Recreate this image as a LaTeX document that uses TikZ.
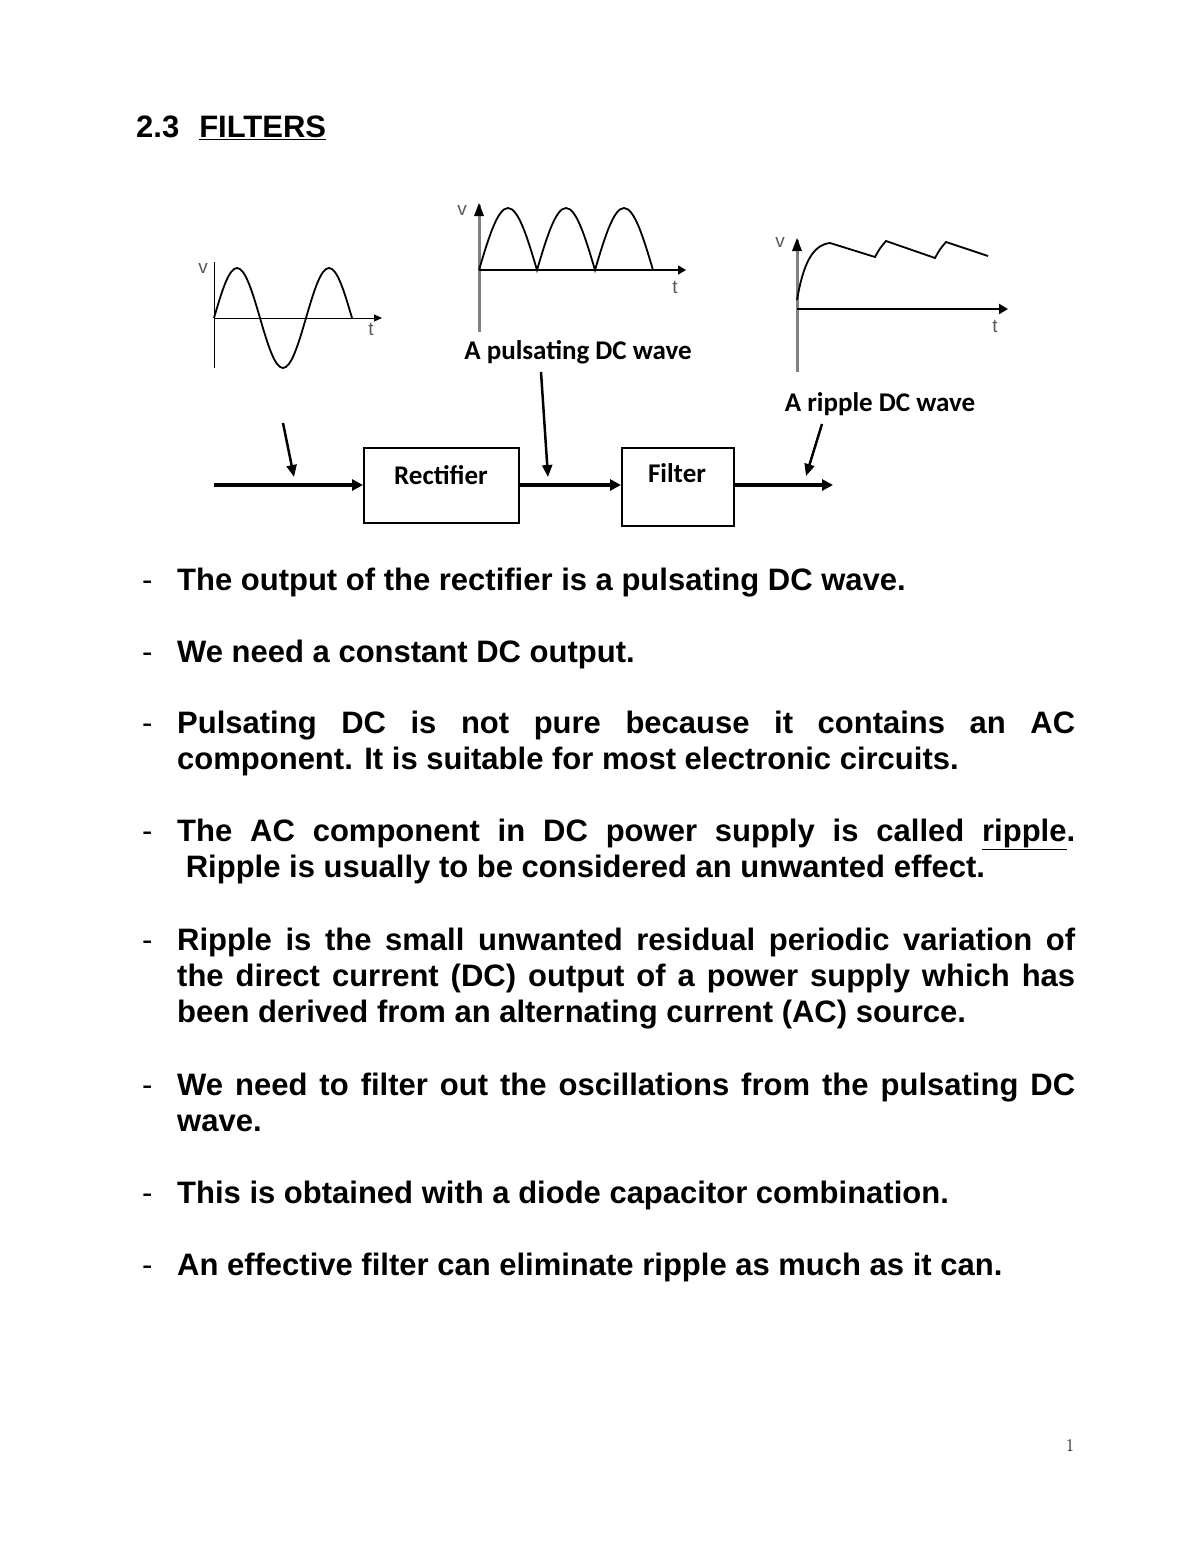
\documentclass[tikz,border=0pt]{standalone}
\usepackage{fontspec}
\setmainfont{Liberation Sans}
\newfontfamily\calfnt{Carlito}
\newfontfamily\lmrfnt{Latin Modern Roman}
\usetikzlibrary{arrows.meta}
\begin{document}
\begin{tikzpicture}[x=1pt,y=-1pt,
  body/.style={anchor=base west,inner sep=0pt,font=\fontsize{31}{36}\selectfont\bfseries},
  dashmark/.style={anchor=base west,inner sep=0pt,font=\fontsize{31}{36}\selectfont},
  lab/.style={inner sep=0pt,font=\fontsize{27}{30}\selectfont\calfnt\bfseries},
  axl/.style={inner sep=0pt,font=\fontsize{19}{20}\selectfont\color{gray!70!black}},
  blk/.style={draw,line width=2pt,inner sep=0pt},
  conn/.style={line width=3.5pt,-{Triangle[length=11pt,width=11pt]}},
  ptr/.style={line width=2.5pt,-{Triangle[length=12pt,width=10pt]}},
  wave/.style={line width=1.8pt}]
\useasboundingbox (0,0) rectangle (1200,1553);
\node[body] (title) at (136,137) {2.3\hspace{20pt}\underline{FILTERS}};
% sine
\draw[line width=1pt] (214,262) -- (214,368);
\draw[line width=1pt,-{Triangle[length=8pt,width=7pt]}] (214,318) -- (382,318);
\draw[wave] (214,318) sin (237,268) cos (260,318) sin (283,368) cos (306,318) sin (329,268) cos (352,318);
\node[axl] at (203,268) {v}; \node[axl] at (371,329) {t};
% pulsating
\draw[gray,line width=3pt] (479,332) -- (479,205);
\fill[black] (479,203) -- (474,216) -- (484,216) -- cycle;
\draw[line width=1.5pt,-{Triangle[length=8pt,width=9pt]}] (479,270) -- (686,270);
\draw[wave] (479,270) sin (508,208) cos (537,270) sin (566,208) cos (595,270) sin (624,208) cos (653,270);
\node[axl] at (462,210) {v}; \node[axl] at (675,287) {t};
% ripple
\draw[gray,line width=3pt] (797,372) -- (797,240);
\fill[black] (797,238) -- (792,251) -- (802,251) -- cycle;
\draw[line width=2.5pt,-{Triangle[length=9pt,width=10pt]}] (797,309) -- (1008,309);
\draw[wave] (797,300) .. controls (803,265) and (812,245) .. (830,243) -- (875,257)
  .. controls (880,248) .. (886,241) -- (935,258) .. controls (940,249) .. (946,242) -- (988,256);
\node[axl] at (780,242) {v}; \node[axl] at (995,326) {t};
% labels
\node[lab] (lp) at (578,352) {A pulsating DC wave};
\node[lab] (lr) at (880,404) {A ripple DC wave};
% blocks
\node[blk,minimum width=155pt,minimum height=75pt,anchor=north west] (rect) at (363,447) {};
\node[lab,anchor=center] at (441,475) {Rectifier};
\node[blk,minimum width=112pt,minimum height=78pt,anchor=north west] (filt) at (621,447) {};
\node[lab,anchor=center] at (677,473) {Filter};
\coordinate (in) at (214,485);
\coordinate (out) at (833,485);
\draw[conn] (in) -- (rect.west |- in);
\draw[conn] (rect.east |- in) -- (filt.west |- in);
\draw[conn] (filt.east |- in) -- (out);
\coordinate (a1) at (283,423); \coordinate (b1) at (294,477);
\coordinate (a2) at (541,372); \coordinate (b2) at (548,477);
\coordinate (a3) at (822,424); \coordinate (b3) at (806,476);
\draw[ptr] (a1) -- (b1);
\draw[ptr] (a2) -- (b2);
\draw[ptr] (a3) -- (b3);
% bullets
\foreach \y in {590,662,733,841,950,1095,1203,1275}
  \node[dashmark] at (142,\y) {-};
\node[body] (t1) at (177,590) {The output of the rectifier is a pulsating DC wave.};
\node[body] (t2) at (177,662) {We need a constant DC output.};
\node[body] (t3) at (177,733) {\makebox[898pt][s]{Pulsating DC is not pure because it contains an AC}};
\node[body] (t3b) at (177,769) {component. It is suitable for most electronic circuits.};
\node[body] (t4) at (177,841) {\makebox[898pt][s]{The AC component in DC power supply is called \underline{ripple}.}};
\node[body] (t4b) at (177,877) {\ Ripple is usually to be considered an unwanted effect.};
\node[body] (t5) at (177,950) {\makebox[898pt][s]{Ripple is the small unwanted residual periodic variation of}};
\node[body] (t5b) at (177,986) {\makebox[898pt][s]{the direct current (DC) output of a power supply which has}};
\node[body] (t5c) at (177,1022) {been derived from an alternating current (AC) source.};
\node[body] (t6) at (177,1095) {\makebox[898pt][s]{We need to filter out the oscillations from the pulsating DC}};
\node[body] (t6b) at (177,1131) {wave.};
\node[body] (t7) at (177,1203) {This is obtained with a diode capacitor combination.};
\node[body] (t8) at (177,1275) {An effective filter can eliminate ripple as much as it can.};
\node[inner sep=0pt,font=\fontsize{18}{20}\selectfont\lmrfnt] (pg) at (1070,1446) {1};
\end{tikzpicture}
\end{document}
